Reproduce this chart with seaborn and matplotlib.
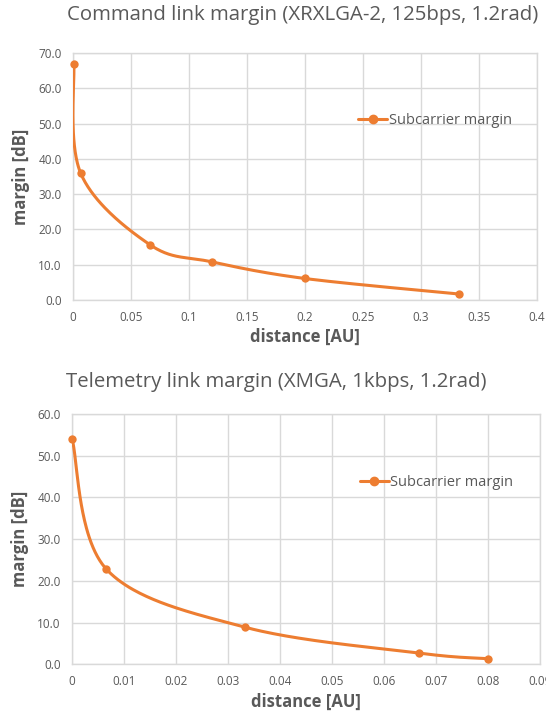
import numpy as np
import pandas as pd
import matplotlib
matplotlib.use("Agg")
import matplotlib.pyplot as plt
from matplotlib.lines import Line2D
from matplotlib.ticker import FuncFormatter, MultipleLocator
import seaborn as sns

# ---- data ----
cmd_distance = [0.0007, 0.00667, 0.0667, 0.12, 0.2, 0.333]
cmd_margin = [67.0, 35.9, 15.6, 10.8, 6.1, 1.7]

tlm_distance = [0.0001, 0.00667, 0.0333, 0.0667, 0.08]
tlm_margin = [53.9, 22.8, 8.9, 2.7, 1.35]

series_label = "Subcarrier margin"
title_cmd = "Command link margin (XRXLGA-2, 125bps, 1.2rad)"
title_tlm = "Telemetry link margin (XMGA, 1kbps, 1.2rad)"
xlabel = "distance [AU]"
ylabel = "margin [dB]"

ORANGE = "#ED7D31"
GRID = "#D9D9D9"
TXT = "#595959"

sns.set_theme(style="white")
plt.rcParams["font.family"] = ["Open Sans", "DejaVu Sans"]


def excel_smooth(xs, ys, xlim, ylim, wpx, hpx, n=60):
    """Bezier smoothing like Excel's 'smoothed line', done in pixel space."""
    px = (np.asarray(xs) - xlim[0]) / (xlim[1] - xlim[0]) * wpx
    py = (np.asarray(ys) - ylim[0]) / (ylim[1] - ylim[0]) * hpx
    P = np.column_stack([px, py])
    m = len(P)
    out = []
    t = np.linspace(0, 1, n)[:, None]
    for i in range(m - 1):
        p0 = P[i - 1] if i > 0 else P[i]
        p1 = P[i]
        p2 = P[i + 1]
        p3 = P[i + 2] if i + 2 < m else P[i + 1]
        c1 = p1 + (p2 - p0) / 6.0
        c2 = p2 - (p3 - p1) / 6.0
        seg = ((1 - t) ** 3) * p1 + 3 * ((1 - t) ** 2) * t * c1 + 3 * (1 - t) * t ** 2 * c2 + t ** 3 * p2
        out.append(seg if i == 0 else seg[1:])
    S = np.vstack(out)
    sx = S[:, 0] / wpx * (xlim[1] - xlim[0]) + xlim[0]
    sy = S[:, 1] / hpx * (ylim[1] - ylim[0]) + ylim[0]
    return sx, sy


W, H = 546, 713
fig = plt.figure(figsize=(W / 100, H / 100), dpi=100)

panels = [
    dict(x=cmd_distance, y=cmd_margin, title=title_cmd, xlim=(0, 0.4), xstep=0.05,
         ylim=(0, 70), ystep=10, rect=(73, 53, 536.5, 300), title_y=15,
         leg_y=50.8),
    dict(x=tlm_distance, y=tlm_margin, title=title_tlm, xlim=(0, 0.09), xstep=0.01,
         ylim=(0, 60), ystep=10, rect=(71.7, 414, 539.7, 664.3), title_y=382,
         leg_y=43.5),
]

for p in panels:
    l, t, r, b = p["rect"]
    ax = fig.add_axes([l / W, 1 - b / H, (r - l) / W, (b - t) / H])
    sx, sy = excel_smooth(p["x"], p["y"], p["xlim"], p["ylim"], r - l, b - t)
    curve = pd.DataFrame({"distance": sx, "margin": sy})
    pts = pd.DataFrame({"distance": p["x"], "margin": p["y"]})
    sns.lineplot(data=curve, x="distance", y="margin", sort=False, estimator=None,
                 color=ORANGE, linewidth=2.2, ax=ax, zorder=3)
    sns.scatterplot(data=pts, x="distance", y="margin", color=ORANGE, s=36,
                    edgecolor=ORANGE, linewidth=0, ax=ax, zorder=4, clip_on=False)
    ax.set_xlim(*p["xlim"])
    ax.set_ylim(*p["ylim"])
    ax.xaxis.set_major_locator(MultipleLocator(p["xstep"]))
    ax.yaxis.set_major_locator(MultipleLocator(p["ystep"]))
    ax.xaxis.set_major_formatter(FuncFormatter(lambda v, pos: f"{round(v, 6):g}"))
    ax.yaxis.set_major_formatter(FuncFormatter(lambda v, pos: f"{v:.1f}"))
    ax.grid(True, color=GRID, linewidth=1.0)
    ax.set_axisbelow(True)
    for s in ax.spines.values():
        s.set_color(GRID)
        s.set_linewidth(1.0)
    ax.tick_params(axis="both", length=0, labelsize=8.5, labelcolor=TXT, pad=8)
    ax.set_xlabel(xlabel, fontsize=12, fontweight="bold", color=TXT, labelpad=3)
    ax.set_ylabel(ylabel, fontsize=12, fontweight="bold", color=TXT, labelpad=6)
    fig.text(l / W - 6 / W, 1 - p["title_y"] / H, p["title"], fontsize=14.7, color=TXT,
             ha="left", va="center")
    handle = Line2D([], [], color=ORANGE, marker="o", markersize=6, linewidth=2.2)
    ax.legend([handle], [series_label], loc="center left",
              bbox_to_anchor=(0.615, (p["leg_y"] - p["ylim"][0]) / (p["ylim"][1] - p["ylim"][0])),
              frameon=False, fontsize=10.5, labelcolor=TXT, handlelength=2.0,
              handletextpad=0.1, borderaxespad=0, borderpad=0)

fig.savefig("out.png", dpi=100)
